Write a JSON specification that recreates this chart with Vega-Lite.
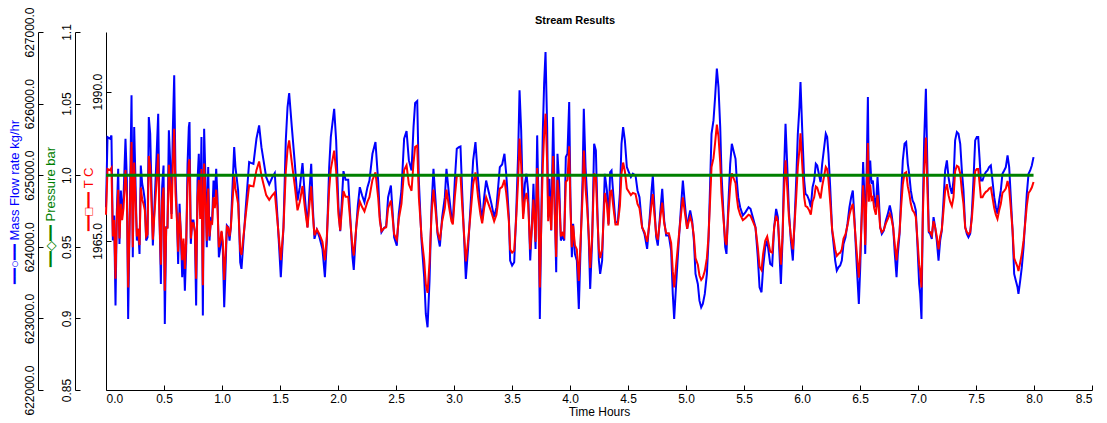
{
"$schema":"https://vega.github.io/schema/vega-lite/v6.json",
"width":986,"height":358,
"autosize":{"type":"none"},
"padding":{"left":106,"top":32,"right":15,"bottom":33},
"background":"white",
"title":{"text":"Stream Results","font":"Liberation Sans","fontSize":11,"fontWeight":"bold","color":"black","anchor":"middle","frame":"group","dx":-24,"offset":-19},
"config":{"view":{"stroke":null},"axis":{"labelFont":"Liberation Sans","labelFontSize":12,"titleFont":"Liberation Sans","titleFontSize":13,"titleFontWeight":"normal","labelColor":"black","titleColor":"black","domainColor":"black","tickColor":"black","grid":false}},
"data":{"values":[
{"t":0.000,"m":624553,"T":1969.38,"p":1},{"t":0.013,"m":625532,"T":1977.03,"p":1},{"t":0.036,"m":625509,"T":1976.85,"p":1},{"t":0.047,"m":625556,"T":1977.21,"p":1},{"t":0.059,"m":624087,"T":1965.74,"p":1},{"t":0.070,"m":624437,"T":1968.47,"p":1},{"t":0.082,"m":623179,"T":1958.64,"p":1},{"t":0.093,"m":624460,"T":1968.66,"p":1},{"t":0.105,"m":625090,"T":1973.57,"p":1},{"t":0.116,"m":624041,"T":1965.38,"p":1},{"t":0.128,"m":624787,"T":1971.20,"p":1},{"t":0.139,"m":624437,"T":1968.47,"p":1},{"t":0.151,"m":624693,"T":1970.48,"p":1},{"t":0.168,"m":625509,"T":1976.85,"p":1},{"t":0.180,"m":624926,"T":1972.30,"p":1},{"t":0.191,"m":622992,"T":1957.19,"p":1},{"t":0.203,"m":624274,"T":1967.20,"p":1},{"t":0.220,"m":626115,"T":1981.58,"p":1},{"t":0.231,"m":623854,"T":1963.92,"p":1},{"t":0.243,"m":625672,"T":1978.12,"p":1},{"t":0.254,"m":624926,"T":1972.30,"p":1},{"t":0.266,"m":624087,"T":1965.74,"p":1},{"t":0.277,"m":624251,"T":1967.02,"p":1},{"t":0.289,"m":623901,"T":1964.29,"p":1},{"t":0.300,"m":625136,"T":1973.93,"p":1},{"t":0.312,"m":624880,"T":1971.93,"p":1},{"t":0.323,"m":624787,"T":1971.20,"p":1},{"t":0.335,"m":624647,"T":1970.11,"p":1},{"t":0.346,"m":624087,"T":1965.74,"p":1},{"t":0.358,"m":624134,"T":1966.11,"p":1},{"t":0.369,"m":625812,"T":1979.22,"p":1},{"t":0.381,"m":625579,"T":1977.39,"p":1},{"t":0.392,"m":624833,"T":1971.57,"p":1},{"t":0.404,"m":624017,"T":1965.20,"p":1},{"t":0.415,"m":624460,"T":1968.66,"p":1},{"t":0.432,"m":625113,"T":1973.75,"p":1},{"t":0.450,"m":625859,"T":1979.58,"p":1},{"t":0.461,"m":624460,"T":1968.66,"p":1},{"t":0.473,"m":623481,"T":1961.01,"p":1},{"t":0.484,"m":624833,"T":1971.57,"p":1},{"t":0.496,"m":625136,"T":1973.93,"p":1},{"t":0.507,"m":622922,"T":1956.64,"p":1},{"t":0.519,"m":624274,"T":1967.20,"p":1},{"t":0.530,"m":624274,"T":1967.20,"p":1},{"t":0.542,"m":625626,"T":1977.76,"p":1},{"t":0.553,"m":625206,"T":1974.48,"p":1},{"t":0.565,"m":624460,"T":1968.66,"p":1},{"t":0.576,"m":625626,"T":1977.76,"p":1},{"t":0.588,"m":626395,"T":1983.77,"p":1},{"t":0.599,"m":625020,"T":1973.03,"p":1},{"t":0.611,"m":624460,"T":1968.66,"p":1},{"t":0.622,"m":623761,"T":1963.19,"p":1},{"t":0.634,"m":624600,"T":1969.75,"p":1},{"t":0.645,"m":624181,"T":1966.47,"p":1},{"t":0.657,"m":623575,"T":1961.74,"p":1},{"t":0.668,"m":624041,"T":1965.38,"p":1},{"t":0.680,"m":623388,"T":1960.28,"p":1},{"t":0.691,"m":623948,"T":1964.65,"p":1},{"t":0.703,"m":625159,"T":1974.12,"p":1},{"t":0.714,"m":625672,"T":1978.12,"p":1},{"t":0.720,"m":625742,"T":1978.67,"p":1},{"t":0.731,"m":624041,"T":1965.38,"p":1},{"t":0.743,"m":624367,"T":1967.93,"p":1},{"t":0.754,"m":624367,"T":1967.93,"p":1},{"t":0.766,"m":624204,"T":1966.65,"p":1},{"t":0.777,"m":623179,"T":1958.64,"p":1},{"t":0.789,"m":624926,"T":1972.30,"p":1},{"t":0.800,"m":625299,"T":1975.21,"p":1},{"t":0.812,"m":624460,"T":1968.66,"p":1},{"t":0.823,"m":625532,"T":1977.03,"p":1},{"t":0.835,"m":623039,"T":1957.55,"p":1},{"t":0.846,"m":625649,"T":1977.94,"p":1},{"t":0.858,"m":624903,"T":1972.12,"p":1},{"t":0.869,"m":623994,"T":1965.02,"p":1},{"t":0.881,"m":625113,"T":1973.75,"p":1},{"t":0.892,"m":624087,"T":1965.74,"p":1},{"t":0.904,"m":624390,"T":1968.11,"p":1},{"t":0.915,"m":624367,"T":1967.93,"p":1},{"t":0.927,"m":624926,"T":1972.30,"p":1},{"t":0.938,"m":624693,"T":1970.48,"p":1},{"t":0.950,"m":625090,"T":1973.57,"p":1},{"t":0.961,"m":624693,"T":1970.48,"p":1},{"t":0.973,"m":623854,"T":1963.92,"p":1},{"t":0.984,"m":623971,"T":1964.83,"p":1},{"t":0.996,"m":624204,"T":1966.65,"p":1},{"t":1.007,"m":623971,"T":1964.83,"p":1},{"t":1.019,"m":623155,"T":1958.46,"p":1},{"t":1.030,"m":623668,"T":1962.47,"p":1},{"t":1.042,"m":624297,"T":1967.38,"p":1},{"t":1.053,"m":624274,"T":1967.20,"p":1},{"t":1.065,"m":624087,"T":1965.74,"p":1},{"t":1.076,"m":624274,"T":1967.20,"p":1},{"t":1.093,"m":624926,"T":1972.30,"p":1},{"t":1.105,"m":625392,"T":1975.94,"p":1},{"t":1.116,"m":625113,"T":1973.75,"p":1},
{"t":1.139,"m":624787,"T":1971.20,"p":1},{"t":1.157,"m":623784,"T":1963.38,"p":1},{"t":1.168,"m":623691,"T":1962.65,"p":1},{"t":1.205,"m":624553,"T":1969.38,"p":1},{"t":1.234,"m":625183,"T":1974.30,"p":1},{"t":1.254,"m":625169,"T":1974.19,"p":1},{"t":1.271,"m":625159,"T":1974.12,"p":1},{"t":1.297,"m":625509,"T":1976.85,"p":1},{"t":1.320,"m":625695,"T":1978.30,"p":1},{"t":1.340,"m":625392,"T":1975.94,"p":1},{"t":1.358,"m":625206,"T":1974.48,"p":1},{"t":1.381,"m":624973,"T":1972.66,"p":1},{"t":1.407,"m":624870,"T":1971.86,"p":1},{"t":1.432,"m":624964,"T":1972.59,"p":1},{"t":1.455,"m":625029,"T":1973.10,"p":1},{"t":1.478,"m":624414,"T":1968.29,"p":1},{"t":1.507,"m":623575,"T":1961.74,"p":1},{"t":1.530,"m":624274,"T":1967.20,"p":1},{"t":1.550,"m":625486,"T":1976.67,"p":1},{"t":1.565,"m":625952,"T":1980.31,"p":1},{"t":1.579,"m":626148,"T":1981.84,"p":1},{"t":1.602,"m":625672,"T":1978.12,"p":1},{"t":1.628,"m":625159,"T":1974.12,"p":1},{"t":1.651,"m":624647,"T":1970.11,"p":1},{"t":1.671,"m":624833,"T":1971.57,"p":1},{"t":1.694,"m":625169,"T":1974.19,"p":1},{"t":1.717,"m":624647,"T":1970.11,"p":1},{"t":1.737,"m":624274,"T":1967.20,"p":1},{"t":1.751,"m":624693,"T":1970.48,"p":1},{"t":1.769,"m":625159,"T":1974.12,"p":1},{"t":1.783,"m":624553,"T":1969.38,"p":1},{"t":1.797,"m":624111,"T":1965.93,"p":1},{"t":1.818,"m":624237,"T":1966.91,"p":1},{"t":1.840,"m":624134,"T":1966.11,"p":1},{"t":1.866,"m":623971,"T":1964.83,"p":1},{"t":1.887,"m":623575,"T":1961.74,"p":1},{"t":1.904,"m":624087,"T":1965.74,"p":1},{"t":1.924,"m":625113,"T":1973.75,"p":1},{"t":1.938,"m":625532,"T":1977.03,"p":1},{"t":1.967,"m":625928,"T":1980.12,"p":1},{"t":1.984,"m":625486,"T":1976.67,"p":1},{"t":2.004,"m":624553,"T":1969.38,"p":1},{"t":2.019,"m":624218,"T":1966.76,"p":1},{"t":2.047,"m":625057,"T":1973.32,"p":1},{"t":2.065,"m":624936,"T":1972.37,"p":1},{"t":2.088,"m":624936,"T":1972.37,"p":1},{"t":2.125,"m":623854,"T":1963.92,"p":1},{"t":2.136,"m":623677,"T":1962.54,"p":1},{"t":2.157,"m":624274,"T":1967.20,"p":1},{"t":2.171,"m":624577,"T":1969.57,"p":1},{"t":2.188,"m":624833,"T":1971.57,"p":1},{"t":2.208,"m":624717,"T":1970.66,"p":1},{"t":2.228,"m":624623,"T":1969.93,"p":1},{"t":2.254,"m":624833,"T":1971.57,"p":1},{"t":2.271,"m":624926,"T":1972.30,"p":1},{"t":2.297,"m":625299,"T":1975.21,"p":1},
{"t":2.323,"m":625462,"T":1976.48,"p":1},{"t":2.346,"m":624926,"T":1972.30,"p":1},{"t":2.361,"m":624414,"T":1968.29,"p":1},{"t":2.375,"m":624204,"T":1966.65,"p":1},{"t":2.398,"m":624265,"T":1967.13,"p":1},{"t":2.415,"m":624283,"T":1967.27,"p":1},{"t":2.432,"m":624693,"T":1970.48,"p":1},{"t":2.456,"m":624856,"T":1971.75,"p":1},{"t":2.470,"m":624507,"T":1969.02,"p":1},{"t":2.484,"m":624134,"T":1966.11,"p":1},{"t":2.507,"m":624017,"T":1965.20,"p":1},{"t":2.524,"m":624460,"T":1968.66,"p":1},{"t":2.547,"m":624787,"T":1971.20,"p":1},{"t":2.570,"m":625509,"T":1976.85,"p":1},{"t":2.591,"m":625616,"T":1977.69,"p":1},{"t":2.611,"m":625206,"T":1974.48,"p":1},{"t":2.634,"m":625066,"T":1973.39,"p":1},{"t":2.651,"m":625672,"T":1978.12,"p":1},{"t":2.665,"m":626008,"T":1980.74,"p":1},{"t":2.683,"m":626036,"T":1980.96,"p":1},{"t":2.697,"m":624926,"T":1972.30,"p":1},{"t":2.720,"m":624087,"T":1965.74,"p":1},{"t":2.743,"m":623575,"T":1961.74,"p":1},{"t":2.757,"m":623062,"T":1957.73,"p":1},{"t":2.772,"m":622876,"T":1956.28,"p":1},{"t":2.789,"m":623528,"T":1961.37,"p":1},{"t":2.806,"m":624553,"T":1969.38,"p":1},{"t":2.823,"m":625090,"T":1973.57,"p":1},{"t":2.841,"m":624647,"T":1970.11,"p":1},{"t":2.858,"m":624181,"T":1966.47,"p":1},{"t":2.878,"m":624004,"T":1965.09,"p":1},{"t":2.898,"m":624414,"T":1968.29,"p":1},{"t":2.921,"m":624693,"T":1970.48,"p":1},{"t":2.935,"m":625090,"T":1973.57,"p":1},{"t":2.956,"m":624740,"T":1970.84,"p":1},{"t":2.978,"m":624414,"T":1968.29,"p":1},{"t":2.990,"m":624344,"T":1967.75,"p":1},{"t":3.007,"m":624926,"T":1972.30,"p":1},{"t":3.024,"m":625369,"T":1975.76,"p":1},{"t":3.042,"m":625392,"T":1975.94,"p":1},{"t":3.056,"m":625402,"T":1976.01,"p":1},{"t":3.070,"m":624787,"T":1971.20,"p":1},{"t":3.088,"m":624087,"T":1965.74,"p":1},{"t":3.102,"m":623551,"T":1961.56,"p":1},{"t":3.122,"m":623994,"T":1965.02,"p":1},{"t":3.142,"m":624553,"T":1969.38,"p":1},{"t":3.165,"m":625206,"T":1974.48,"p":1},{"t":3.185,"m":625462,"T":1976.48,"p":1},{"t":3.208,"m":624926,"T":1972.30,"p":1},{"t":3.228,"m":624553,"T":1969.38,"p":1},{"t":3.243,"m":624367,"T":1967.93,"p":1},{"t":3.260,"m":624693,"T":1970.48,"p":1},{"t":3.277,"m":624926,"T":1972.30,"p":1},{"t":3.300,"m":624763,"T":1971.02,"p":1},{"t":3.323,"m":624600,"T":1969.75,"p":1},{"t":3.346,"m":624414,"T":1968.29,"p":1},{"t":3.366,"m":624553,"T":1969.38,"p":1},{"t":3.395,"m":625113,"T":1973.75,"p":1},{"t":3.415,"m":625150,"T":1974.04,"p":1},{"t":3.435,"m":625299,"T":1975.21,"p":1},{"t":3.450,"m":625020,"T":1973.03,"p":1},
{"t":3.458,"m":624833,"T":1971.57,"p":1},{"t":3.473,"m":624414,"T":1968.29,"p":1},{"t":3.484,"m":623808,"T":1963.56,"p":1},{"t":3.501,"m":623738,"T":1963.01,"p":1},{"t":3.519,"m":623784,"T":1963.38,"p":1},{"t":3.536,"m":624460,"T":1968.66,"p":1},{"t":3.553,"m":625299,"T":1975.21,"p":1},{"t":3.565,"m":626185,"T":1982.13,"p":1},{"t":3.579,"m":625626,"T":1977.76,"p":1},{"t":3.596,"m":624460,"T":1968.66,"p":1},{"t":3.611,"m":624880,"T":1971.93,"p":1},{"t":3.625,"m":625020,"T":1973.03,"p":1},{"t":3.639,"m":624787,"T":1971.20,"p":1},{"t":3.657,"m":623808,"T":1963.56,"p":1},{"t":3.671,"m":624274,"T":1967.20,"p":1},{"t":3.685,"m":624880,"T":1971.93,"p":1},{"t":3.703,"m":623971,"T":1964.83,"p":1},{"t":3.717,"m":625556,"T":1977.21,"p":1},{"t":3.728,"m":624647,"T":1970.11,"p":1},{"t":3.740,"m":622992,"T":1957.19,"p":1},{"t":3.754,"m":624553,"T":1969.38,"p":1},{"t":3.766,"m":625626,"T":1977.76,"p":1},{"t":3.777,"m":626278,"T":1982.86,"p":1},{"t":3.789,"m":626721,"T":1986.31,"p":1},{"t":3.803,"m":625672,"T":1978.12,"p":1},{"t":3.812,"m":624414,"T":1968.29,"p":1},{"t":3.823,"m":624950,"T":1972.48,"p":1},{"t":3.838,"m":624227,"T":1966.84,"p":1},{"t":3.855,"m":625812,"T":1979.22,"p":1},{"t":3.869,"m":624553,"T":1969.38,"p":1},{"t":3.881,"m":623645,"T":1962.28,"p":1},{"t":3.892,"m":625299,"T":1975.21,"p":1},{"t":3.907,"m":624880,"T":1971.93,"p":1},{"t":3.921,"m":624087,"T":1965.74,"p":1},{"t":3.935,"m":624157,"T":1966.29,"p":1},{"t":3.950,"m":624087,"T":1965.74,"p":1},{"t":3.964,"m":625253,"T":1974.85,"p":1},{"t":3.978,"m":625299,"T":1975.21,"p":1},{"t":3.993,"m":626022,"T":1980.85,"p":1},{"t":4.004,"m":624693,"T":1970.48,"p":1},{"t":4.016,"m":623854,"T":1963.92,"p":1},{"t":4.027,"m":624320,"T":1967.56,"p":1},{"t":4.042,"m":623901,"T":1964.29,"p":1},{"t":4.059,"m":623808,"T":1963.56,"p":1},{"t":4.076,"m":623132,"T":1958.28,"p":1},{"t":4.093,"m":624087,"T":1965.74,"p":1},{"t":4.108,"m":624926,"T":1972.30,"p":1},{"t":4.119,"m":625928,"T":1980.12,"p":1},{"t":4.134,"m":625113,"T":1973.75,"p":1},{"t":4.148,"m":624693,"T":1970.48,"p":1},{"t":4.162,"m":624087,"T":1965.74,"p":1},{"t":4.174,"m":623412,"T":1960.46,"p":1},{"t":4.191,"m":624087,"T":1965.74,"p":1},{"t":4.208,"m":625439,"T":1976.30,"p":1},{"t":4.223,"m":625346,"T":1975.57,"p":1},{"t":4.237,"m":624460,"T":1968.66,"p":1},{"t":4.249,"m":623808,"T":1963.56,"p":1},{"t":4.260,"m":623621,"T":1962.10,"p":1},{"t":4.277,"m":623808,"T":1963.56,"p":1},{"t":4.300,"m":625020,"T":1973.03,"p":1},{"t":4.318,"m":624787,"T":1971.20,"p":1},{"t":4.332,"m":624320,"T":1967.56,"p":1},{"t":4.346,"m":625043,"T":1973.21,"p":1},{"t":4.358,"m":625066,"T":1973.39,"p":1},{"t":4.375,"m":624693,"T":1970.48,"p":1},{"t":4.392,"m":624344,"T":1967.75,"p":1},{"t":4.412,"m":624344,"T":1967.75,"p":1},{"t":4.430,"m":624740,"T":1970.84,"p":1},{"t":4.444,"m":625439,"T":1976.30,"p":1},{"t":4.458,"m":625672,"T":1978.12,"p":1},{"t":4.473,"m":625486,"T":1976.67,"p":1},{"t":4.490,"m":625113,"T":1973.75,"p":1},{"t":4.507,"m":625043,"T":1973.21,"p":1},{"t":4.525,"m":624973,"T":1972.66,"p":1},{"t":4.542,"m":625020,"T":1973.03,"p":1},{"t":4.565,"m":624996,"T":1972.84,"p":1},{"t":4.582,"m":624787,"T":1971.20,"p":1},{"t":4.599,"m":624693,"T":1970.48,"p":1},
{"t":4.622,"m":624274,"T":1967.20,"p":1},{"t":4.642,"m":624181,"T":1966.47,"p":1},{"t":4.665,"m":623971,"T":1964.83,"p":1},{"t":4.685,"m":624367,"T":1967.93,"p":1},{"t":4.703,"m":624787,"T":1971.20,"p":1},{"t":4.714,"m":624996,"T":1972.84,"p":1},{"t":4.728,"m":624553,"T":1969.38,"p":1},{"t":4.743,"m":624134,"T":1966.11,"p":1},{"t":4.757,"m":624017,"T":1965.20,"p":1},{"t":4.777,"m":624460,"T":1968.66,"p":1},{"t":4.795,"m":624810,"T":1971.39,"p":1},{"t":4.812,"m":624367,"T":1967.93,"p":1},{"t":4.829,"m":624157,"T":1966.29,"p":1},{"t":4.852,"m":624157,"T":1966.29,"p":1},{"t":4.872,"m":623948,"T":1964.65,"p":1},{"t":4.886,"m":623342,"T":1959.92,"p":1},{"t":4.898,"m":622992,"T":1957.19,"p":1},{"t":4.915,"m":623481,"T":1961.01,"p":1},{"t":4.938,"m":624087,"T":1965.74,"p":1},{"t":4.953,"m":624460,"T":1968.66,"p":1},{"t":4.973,"m":624926,"T":1972.30,"p":1},{"t":4.990,"m":624600,"T":1969.75,"p":1},{"t":5.010,"m":624251,"T":1967.02,"p":1},{"t":5.024,"m":624414,"T":1968.29,"p":1},{"t":5.036,"m":624507,"T":1969.02,"p":1},{"t":5.053,"m":624367,"T":1967.93,"p":1},{"t":5.068,"m":624087,"T":1965.74,"p":1},{"t":5.082,"m":623621,"T":1962.10,"p":1},{"t":5.102,"m":623481,"T":1961.01,"p":1},{"t":5.116,"m":623248,"T":1959.19,"p":1},{"t":5.131,"m":623155,"T":1958.46,"p":1},{"t":5.145,"m":623202,"T":1958.83,"p":1},{"t":5.162,"m":623342,"T":1959.92,"p":1},{"t":5.180,"m":623621,"T":1962.10,"p":1},{"t":5.194,"m":624087,"T":1965.74,"p":1},{"t":5.208,"m":624880,"T":1971.93,"p":1},{"t":5.220,"m":625579,"T":1977.39,"p":1},{"t":5.237,"m":625765,"T":1978.85,"p":1},{"t":5.251,"m":626092,"T":1981.40,"p":1},{"t":5.266,"m":626488,"T":1984.49,"p":1},{"t":5.280,"m":626231,"T":1982.49,"p":1},{"t":5.295,"m":625672,"T":1978.12,"p":1},{"t":5.306,"m":625020,"T":1973.03,"p":1},{"t":5.323,"m":624460,"T":1968.66,"p":1},{"t":5.338,"m":623994,"T":1965.02,"p":1},{"t":5.349,"m":623901,"T":1964.29,"p":1},{"t":5.364,"m":624553,"T":1969.38,"p":1},{"t":5.381,"m":625159,"T":1974.12,"p":1},{"t":5.395,"m":625439,"T":1976.30,"p":1},{"t":5.409,"m":625346,"T":1975.57,"p":1},{"t":5.427,"m":625229,"T":1974.66,"p":1},{"t":5.438,"m":624926,"T":1972.30,"p":1},{"t":5.450,"m":624693,"T":1970.48,"p":1},{"t":5.467,"m":624553,"T":1969.38,"p":1},{"t":5.490,"m":624437,"T":1968.47,"p":1},{"t":5.513,"m":624484,"T":1968.84,"p":1},{"t":5.539,"m":624553,"T":1969.38,"p":1},{"t":5.556,"m":624530,"T":1969.20,"p":1},{"t":5.576,"m":624414,"T":1968.29,"p":1},{"t":5.599,"m":624274,"T":1967.20,"p":1},{"t":5.619,"m":623854,"T":1963.92,"p":1},{"t":5.634,"m":623435,"T":1960.65,"p":1},{"t":5.651,"m":623365,"T":1960.10,"p":1},{"t":5.665,"m":623715,"T":1962.83,"p":1},{"t":5.683,"m":623994,"T":1965.02,"p":1},{"t":5.700,"m":624087,"T":1965.74,"p":1},{"t":5.711,"m":623948,"T":1964.65,"p":1},{"t":5.726,"m":623761,"T":1963.19,"p":1},{"t":5.743,"m":623738,"T":1963.01,"p":1},{"t":5.760,"m":624274,"T":1967.20,"p":1},
{"t":5.777,"m":624530,"T":1969.20,"p":1},{"t":5.792,"m":624414,"T":1968.29,"p":1},{"t":5.806,"m":623901,"T":1964.29,"p":1},{"t":5.818,"m":623481,"T":1961.01,"p":1},{"t":5.832,"m":624087,"T":1965.74,"p":1},{"t":5.843,"m":624926,"T":1972.30,"p":1},{"t":5.858,"m":625719,"T":1978.49,"p":1},{"t":5.872,"m":625159,"T":1974.12,"p":1},{"t":5.887,"m":624507,"T":1969.02,"p":1},{"t":5.904,"m":624087,"T":1965.74,"p":1},{"t":5.921,"m":623808,"T":1963.56,"p":1},{"t":5.935,"m":624320,"T":1967.56,"p":1},{"t":5.950,"m":624926,"T":1972.30,"p":1},{"t":5.964,"m":625579,"T":1977.39,"p":1},{"t":5.978,"m":625952,"T":1980.31,"p":1},{"t":5.987,"m":626301,"T":1983.04,"p":1},{"t":6.001,"m":625672,"T":1978.12,"p":1},{"t":6.019,"m":624926,"T":1972.30,"p":1},{"t":6.030,"m":624740,"T":1970.84,"p":1},{"t":6.045,"m":624717,"T":1970.66,"p":1},{"t":6.062,"m":624647,"T":1970.11,"p":1},{"t":6.076,"m":624553,"T":1969.38,"p":1},{"t":6.091,"m":624833,"T":1971.57,"p":1},{"t":6.105,"m":624926,"T":1972.30,"p":1},{"t":6.119,"m":625159,"T":1974.12,"p":1},{"t":6.131,"m":625136,"T":1973.93,"p":1},{"t":6.145,"m":625020,"T":1973.03,"p":1},{"t":6.160,"m":624903,"T":1972.12,"p":1},{"t":6.174,"m":625159,"T":1974.12,"p":1},{"t":6.188,"m":625346,"T":1975.57,"p":1},{"t":6.205,"m":625579,"T":1977.39,"p":1},{"t":6.217,"m":625532,"T":1977.03,"p":1},{"t":6.228,"m":625299,"T":1975.21,"p":1},{"t":6.243,"m":624833,"T":1971.57,"p":1},{"t":6.260,"m":624227,"T":1966.84,"p":1},{"t":6.272,"m":624041,"T":1965.38,"p":1},{"t":6.286,"m":623808,"T":1963.56,"p":1},{"t":6.300,"m":623668,"T":1962.47,"p":1},{"t":6.315,"m":623715,"T":1962.83,"p":1},{"t":6.329,"m":623738,"T":1963.01,"p":1},{"t":6.343,"m":623808,"T":1963.56,"p":1},{"t":6.358,"m":624041,"T":1965.38,"p":1},{"t":6.375,"m":624134,"T":1966.11,"p":1},{"t":6.392,"m":624320,"T":1967.56,"p":1},{"t":6.409,"m":624553,"T":1969.38,"p":1},{"t":6.424,"m":624693,"T":1970.48,"p":1},{"t":6.438,"m":624787,"T":1971.20,"p":1},{"t":6.450,"m":624460,"T":1968.66,"p":1},{"t":6.464,"m":623994,"T":1965.02,"p":1},{"t":6.476,"m":623621,"T":1962.10,"p":1},{"t":6.490,"m":623202,"T":1958.83,"p":1},{"t":6.502,"m":623715,"T":1962.83,"p":1},{"t":6.516,"m":624553,"T":1969.38,"p":1},{"t":6.527,"m":625183,"T":1974.30,"p":1},{"t":6.536,"m":624787,"T":1971.20,"p":1},{"t":6.545,"m":623901,"T":1964.29,"p":1},{"t":6.556,"m":624926,"T":1972.30,"p":1},{"t":6.568,"m":626092,"T":1981.40,"p":1},{"t":6.576,"m":624833,"T":1971.57,"p":1},{"t":6.588,"m":625206,"T":1974.48,"p":1},{"t":6.599,"m":624880,"T":1971.93,"p":1},{"t":6.611,"m":624926,"T":1972.30,"p":1},{"t":6.622,"m":624693,"T":1970.48,"p":1},{"t":6.637,"m":624553,"T":1969.38,"p":1},{"t":6.651,"m":624973,"T":1972.66,"p":1},{"t":6.662,"m":624693,"T":1970.48,"p":1},{"t":6.674,"m":624274,"T":1967.20,"p":1},{"t":6.688,"m":624181,"T":1966.47,"p":1},{"t":6.705,"m":624227,"T":1966.84,"p":1},{"t":6.723,"m":624367,"T":1967.93,"p":1},{"t":6.740,"m":624460,"T":1968.66,"p":1},{"t":6.757,"m":624577,"T":1969.57,"p":1},{"t":6.772,"m":624460,"T":1968.66,"p":1},{"t":6.786,"m":624274,"T":1967.20,"p":1},{"t":6.800,"m":623901,"T":1964.29,"p":1},{"t":6.815,"m":623575,"T":1961.74,"p":1},{"t":6.826,"m":623901,"T":1964.29,"p":1},{"t":6.841,"m":624181,"T":1966.47,"p":1},{"t":6.855,"m":624740,"T":1970.84,"p":1},{"t":6.869,"m":625206,"T":1974.48,"p":1},{"t":6.884,"m":625439,"T":1976.30,"p":1},{"t":6.898,"m":625462,"T":1976.48,"p":1},{"t":6.912,"m":625159,"T":1974.12,"p":1},
{"t":6.924,"m":625020,"T":1973.03,"p":1},{"t":6.938,"m":624787,"T":1971.20,"p":1},{"t":6.953,"m":624647,"T":1970.11,"p":1},{"t":6.967,"m":624600,"T":1969.75,"p":1},{"t":6.981,"m":624507,"T":1969.02,"p":1},{"t":6.996,"m":623994,"T":1965.02,"p":1},{"t":7.010,"m":623481,"T":1961.01,"p":1},{"t":7.019,"m":623342,"T":1959.92,"p":1},{"t":7.030,"m":622992,"T":1957.19,"p":1},{"t":7.042,"m":624553,"T":1969.38,"p":1},{"t":7.053,"m":625486,"T":1976.67,"p":1},{"t":7.068,"m":626208,"T":1982.31,"p":1},{"t":7.082,"m":625020,"T":1973.03,"p":1},{"t":7.093,"m":624204,"T":1966.65,"p":1},{"t":7.105,"m":624181,"T":1966.47,"p":1},{"t":7.119,"m":624111,"T":1965.93,"p":1},{"t":7.134,"m":624414,"T":1968.29,"p":1},{"t":7.148,"m":624274,"T":1967.20,"p":1},{"t":7.162,"m":624087,"T":1965.74,"p":1},{"t":7.177,"m":623808,"T":1963.56,"p":1},{"t":7.191,"m":624087,"T":1965.74,"p":1},{"t":7.205,"m":624227,"T":1966.84,"p":1},{"t":7.220,"m":624647,"T":1970.11,"p":1},{"t":7.234,"m":625066,"T":1973.39,"p":1},{"t":7.249,"m":625206,"T":1974.48,"p":1},{"t":7.263,"m":624973,"T":1972.66,"p":1},{"t":7.277,"m":624833,"T":1971.57,"p":1},{"t":7.292,"m":624740,"T":1970.84,"p":1},{"t":7.306,"m":624926,"T":1972.30,"p":1},{"t":7.320,"m":625486,"T":1976.67,"p":1},{"t":7.335,"m":625602,"T":1977.58,"p":1},{"t":7.349,"m":625579,"T":1977.39,"p":1},{"t":7.364,"m":625439,"T":1976.30,"p":1},{"t":7.378,"m":625066,"T":1973.39,"p":1},{"t":7.392,"m":624787,"T":1971.20,"p":1},{"t":7.407,"m":624274,"T":1967.20,"p":1},{"t":7.421,"m":624181,"T":1966.47,"p":1},{"t":7.435,"m":624134,"T":1966.11,"p":1},{"t":7.450,"m":624181,"T":1966.47,"p":1},{"t":7.464,"m":624460,"T":1968.66,"p":1},{"t":7.478,"m":624926,"T":1972.30,"p":1},{"t":7.493,"m":625486,"T":1976.67,"p":1},{"t":7.507,"m":625532,"T":1977.03,"p":1},{"t":7.519,"m":625532,"T":1977.03,"p":1},{"t":7.530,"m":625253,"T":1974.85,"p":1},{"t":7.542,"m":624926,"T":1972.30,"p":1},{"t":7.556,"m":624926,"T":1972.30,"p":1},{"t":7.570,"m":624996,"T":1972.84,"p":1},{"t":7.585,"m":625043,"T":1973.21,"p":1},{"t":7.599,"m":625066,"T":1973.39,"p":1},{"t":7.613,"m":625113,"T":1973.75,"p":1},{"t":7.628,"m":625136,"T":1973.93,"p":1},{"t":7.642,"m":624926,"T":1972.30,"p":1},{"t":7.657,"m":624693,"T":1970.48,"p":1},{"t":7.671,"m":624553,"T":1969.38,"p":1},{"t":7.685,"m":624460,"T":1968.66,"p":1},{"t":7.700,"m":624647,"T":1970.11,"p":1},{"t":7.714,"m":624787,"T":1971.20,"p":1},{"t":7.728,"m":625020,"T":1973.03,"p":1},{"t":7.743,"m":625066,"T":1973.39,"p":1},{"t":7.757,"m":625113,"T":1973.75,"p":1},{"t":7.772,"m":625276,"T":1975.03,"p":1},{"t":7.786,"m":625113,"T":1973.75,"p":1},{"t":7.800,"m":624693,"T":1970.48,"p":1},{"t":7.815,"m":624227,"T":1966.84,"p":1},{"t":7.829,"m":623621,"T":1962.10,"p":1},{"t":7.843,"m":623528,"T":1961.37,"p":1},{"t":7.858,"m":623435,"T":1960.65,"p":1},{"t":7.866,"m":623342,"T":1959.92,"p":1},{"t":7.881,"m":623528,"T":1961.37,"p":1},{"t":7.895,"m":623715,"T":1962.83,"p":1},{"t":7.910,"m":623994,"T":1965.02,"p":1},{"t":7.924,"m":624367,"T":1967.93,"p":1},{"t":7.938,"m":624740,"T":1970.84,"p":1},{"t":7.953,"m":625020,"T":1973.03,"p":1},{"t":7.967,"m":625066,"T":1973.39,"p":1},{"t":7.981,"m":625136,"T":1973.93,"p":1},{"t":7.996,"m":625253,"T":1974.85,"p":1}
]},
"encoding":{"x":{"field":"t","type":"quantitative","scale":{"domain":[0,8.5],"nice":false,"zero":false},
  "axis":{"title":"Time Hours","titleFontSize":12,"values":[0,0.5,1,1.5,2,2.5,3,3.5,4,4.5,5,5.5,6,6.5,7,7.5,8,8.5],"format":".1f","tickSize":-5,"labelPadding":8,"titlePadding":2}}},
"layer":[
{"mark":{"type":"line","color":"#0000FF","strokeWidth":2},
 "encoding":{"y":{"field":"m","type":"quantitative","scale":{"domain":[622000,627000],"nice":false,"zero":false},
  "axis":{"orient":"left","offset":68,"title":"━━○━━ Mass Flow rate kg/hr","titleColor":"#0000FF","titleX":-17,"titleY":169.5,"values":[622000,623000,624000,625000,626000,627000],"format":".1f","labelAngle":270,"labelAlign":"center","labelBaseline":"bottom","tickSize":-5,"labelPadding":7}}}},
{"mark":{"type":"line","color":"#FF0000","strokeWidth":2},
 "encoding":{"y":{"field":"T","type":"quantitative","scale":{"domain":[1940,2000],"nice":false,"zero":false},
  "axis":{"orient":"left","offset":0,"title":"━━□━━ T C","titleColor":"#FF0000","titleX":-11,"titleY":167,"values":[1965,1990],"format":".1f","labelAngle":270,"labelAlign":"center","labelBaseline":"bottom","tickSize":-5,"labelPadding":7}}}},
{"mark":{"type":"line","color":"#008000","strokeWidth":3},
 "encoding":{"y":{"field":"p","type":"quantitative","scale":{"domain":[0.85,1.1],"nice":false,"zero":false},
  "axis":{"orient":"left","offset":31,"title":"━━◇━━ Pressure bar","titleColor":"#008000","titleX":-18,"titleY":174.5,"values":[0.85,0.9,0.95,1,1.05,1.1],"labelExpr":"datum.value == 1 ? '1.0' : format(datum.value, '~g')","labelAngle":270,"labelAlign":"center","labelBaseline":"bottom","tickSize":-5,"labelPadding":7}}}}
],
"resolve":{"scale":{"y":"independent"}}
}
